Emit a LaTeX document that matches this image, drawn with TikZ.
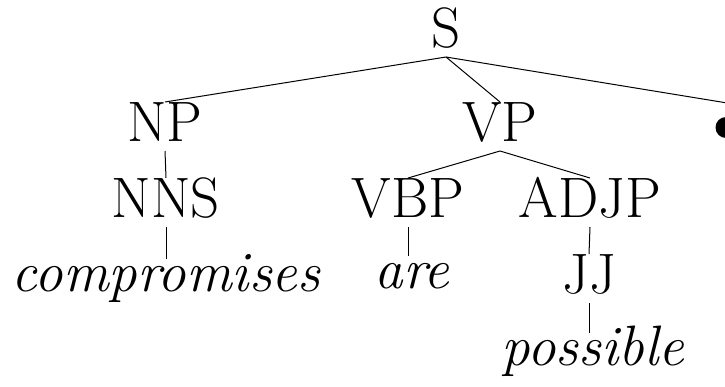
\documentclass[tikz,border=0pt]{standalone}
\usepackage{fontspec}
\begin{document}
\begin{tikzpicture}[x=1pt,y=1pt,
  font=\fontsize{57pt}{64pt}\selectfont,
  lab/.style={anchor=base,inner sep=0pt,outer sep=0pt,text height=39pt,text depth=10pt},
  word/.style={anchor=base,inner sep=0pt,outer sep=0pt,text height=32.5pt,text depth=10pt,font=\fontsize{57pt}{64pt}\selectfont\itshape},
  branch/.style={draw=black,line width=1pt}]
\useasboundingbox (0,0) rectangle (725,-386);
% nodes
\node[lab] (S) at (446,-47) {S};
\node[lab] (NP) at (165,-141) {NP};
\node[lab] (VP) at (500,-141) {VP};
\node[circle,fill=black,inner sep=0pt,minimum size=21pt] (dot) at (726,-127.5) {};
\node[lab] (NNS) at (166,-217) {NNS};
\node[lab] (VBP) at (408,-217) {VBP};
\node[lab] (ADJP) at (590,-217) {ADJP};
\node[word] (comp) at (166,-291) {compromises};
\node[word] (are) at (412,-288) {are};
\node[lab] (JJ) at (589,-293) {JJ};
\node[word] (poss) at (593,-365) {possible};
% connectors
\draw[branch] (S.south) -- (NP.north);
\draw[branch] (S.south) -- (VP.north);
\draw[branch] (S.south) -- ([yshift=14pt]dot.north);
\draw[branch] (NP.south) -- (NNS.north);
\draw[branch] (VP.south) -- (VBP.north);
\draw[branch] (VP.south) -- (ADJP.north);
\draw[branch] (NNS.south) -- (NNS.south |- comp.north);
\draw[branch] (VBP.south) -- (VBP.south |- are.north);
\draw[branch] (ADJP.south) -- (JJ.north);
\draw[branch] (JJ.south) -- (JJ.south |- poss.north);
\end{tikzpicture}
\end{document}
